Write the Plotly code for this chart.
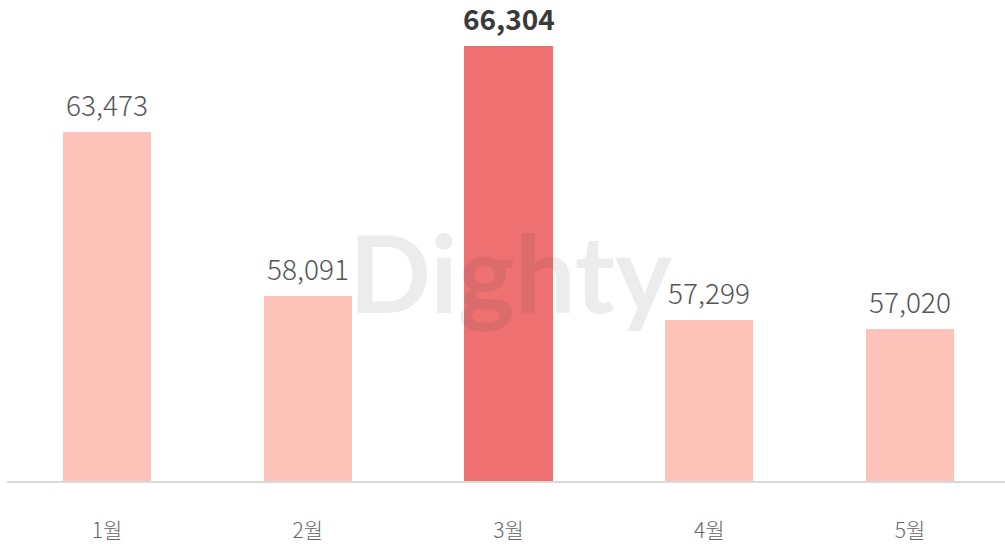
import plotly.graph_objects as go

categories = ["1월", "2월", "3월", "4월", "5월"]
values = [63473, 58091, 66304, 57299, 57020]
highlight = "3월"

light_color = "#fdc3b8"
hi_color = "#ee7070"
colors = [hi_color if c == highlight else light_color for c in categories]

FONT = "Noto Sans CJK KR"

fig = go.Figure()
fig.add_trace(go.Bar(
    x=categories, y=values,
    marker=dict(color=colors, line=dict(width=0)),
    width=0.44,
    hoverinfo="skip",
))

for c, v in zip(categories, values):
    is_hi = c == highlight
    fig.add_annotation(
        x=c, y=v, xref="x", yref="y",
        text=f"<b>{v:,}</b>" if is_hi else f"{v:,}",
        showarrow=False, yanchor="bottom", yshift=6,
        font=dict(family=FONT, size=28, color="#3a3a3a" if is_hi else "#555555",
                  weight=500 if is_hi else 300),
    )

fig.add_annotation(
    text="<b>Dighty</b>", xref="paper", yref="paper", x=0.505, y=0.455,
    showarrow=False, font=dict(family="Lato", size=108, color="rgba(80,80,80,0.11)"),
)

fig.update_layout(
    width=1005, height=544,
    margin=dict(l=7, r=0, t=20, b=63),
    plot_bgcolor="white", paper_bgcolor="white",
    showlegend=False,
    bargap=0,
    xaxis=dict(
        range=[-0.498, 4.473],
        showline=True, linecolor="#d9d9d9", linewidth=2,
        showgrid=False, ticks="", ticklabelstandoff=30,
        tickfont=dict(family=FONT, size=21, color="#666666", weight=300),
    ),
    yaxis=dict(range=[52000, 67176], visible=False, showgrid=False),
)

fig.write_html("out.html", config={"displayModeBar": False},
               post_script="document.body.style.margin='0';document.body.style.overflow='hidden';")
